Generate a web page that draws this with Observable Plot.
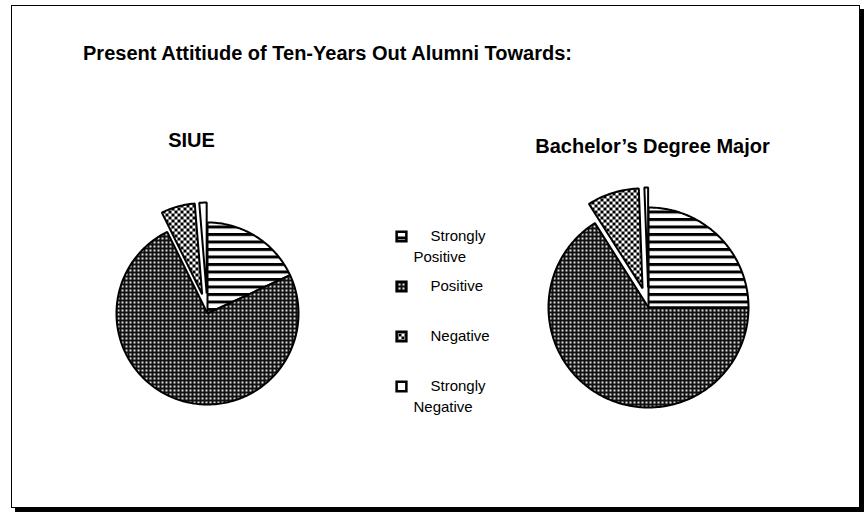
<!DOCTYPE html>
<html><head><meta charset="utf-8">
<script src="https://cdn.jsdelivr.net/npm/d3@7"></script>
<script src="https://cdn.jsdelivr.net/npm/@observablehq/plot@0.6"></script>
<style>
body{margin:0;background:#fff;}
#wrap{position:relative;width:865px;height:512px;overflow:hidden;}
#frame{position:absolute;left:11px;top:5px;width:849px;height:503px;box-sizing:border-box;border:1px solid #000;box-shadow:4px 4px 0 #000;pointer-events:none;}
#wrap svg{position:absolute;left:0;top:0;}
</style></head><body><div id="wrap"><div id="frame"></div></div>
<script>
// ---- data ----
const chartTitle = "Present Attitiude of Ten-Years Out Alumni Towards:";
const pieTitles = ["SIUE", "Bachelor\u2019s Degree Major"];
const categories = ["Strongly Positive", "Positive", "Negative", "Strongly Negative"];
const siueValues = [18.1, 74.6, 6.0, 1.3];
const majorValues = [25.0, 66.0, 8.4, 0.6];
const explodedCategories = ["Negative", "Strongly Negative"];

// ---- layout & style ----
const font = "Liberation Sans, Arial, Helvetica, sans-serif";
const patterns = ["url(#pStripes)", "url(#pDots)", "url(#pChecker)", "#ffffff"];
const pieLayout = [
  {values: siueValues, title: pieTitles[0], cx: 207, cy: 313, r: 91, tx: 191, ty: 140},
  {values: majorValues, title: pieTitles[1], cx: 648, cy: 307, r: 100, tx: 652, ty: 146}
];
const explodeDist = 20;
const legendX = 401, legendTextX = 430, legendWrapX = 413, legendY0 = 236, legendStep = 50, legendLineGap = 21;

const marks = [];
pieLayout.forEach(p => {
  const arcs = d3.pie().sort(null).value(d => d)(p.values);
  arcs.forEach((a, i) => {
    const off = explodedCategories.includes(categories[i]) ? explodeDist : 0;
    const mid = (a.startAngle + a.endAngle) / 2;
    const cx = p.cx + off * Math.sin(mid), cy = p.cy - off * Math.cos(mid);
    const pts = [[cx, cy]];
    const n = Math.max(2, Math.ceil((a.endAngle - a.startAngle) / (Math.PI / 180)));
    for (let k = 0; k <= n; k++) {
      const t = a.startAngle + (a.endAngle - a.startAngle) * k / n;
      pts.push([cx + p.r * Math.sin(t), cy - p.r * Math.cos(t)]);
    }
    marks.push(Plot.line(pts, {x: d => d[0], y: d => d[1], curve: "linear-closed",
      fill: patterns[i], stroke: "#000", strokeWidth: 2, strokeLinejoin: "miter"}));
  });
  marks.push(Plot.text([p.title], {x: () => p.tx, y: () => p.ty, text: d => d,
    fontSize: 20, fontWeight: "bold", fontFamily: font, fill: "#000"}));
});

marks.push(Plot.text([chartTitle], {x: () => 327, y: () => 53, text: d => d,
  fontSize: 20, fontWeight: "bold", fontFamily: font, fill: "#000"}));

categories.forEach((c, i) => {
  const y = legendY0 + i * legendStep;
  marks.push(Plot.dot([c], {x: () => legendX, y: () => y, symbol: "square", r: 5.5,
    fill: patterns[i], stroke: "#000", strokeWidth: 2.5}));
  const words = c.split(" ");
  const lines = words.length > 1 ? [[words[0], legendTextX, y], [words.slice(1).join(" "), legendWrapX, y + legendLineGap]] : [[c, legendTextX, y]];
  marks.push(Plot.text(lines, {x: d => d[1], y: d => d[2], text: d => d[0], textAnchor: "start",
    fontSize: 15, fontFamily: font, fill: "#000"}));
});

const svg = Plot.plot({
  width: 865, height: 512, margin: 0,
  x: {type: "identity", axis: null},
  y: {type: "identity", axis: null},
  style: {background: "none", fontFamily: font},
  marks
});
d3.select(svg).insert("defs", ":first-child").html(`
  <pattern id="pStripes" patternUnits="userSpaceOnUse" width="8" height="7.5">
    <rect width="8" height="7.5" fill="#fff"/><rect width="8" height="3" fill="#000"/>
  </pattern>
  <pattern id="pDots" patternUnits="userSpaceOnUse" width="4" height="4">
    <rect width="4" height="4" fill="#111"/><rect x="1" y="1" width="2" height="2" fill="#fff" fill-opacity="0.85"/>
  </pattern>
  <pattern id="pChecker" patternUnits="userSpaceOnUse" width="6" height="6">
    <rect width="6" height="6" fill="#fff"/><rect width="3" height="3" fill="#000"/><rect x="3" y="3" width="3" height="3" fill="#000"/>
  </pattern>`);
document.getElementById("wrap").insertBefore(svg, document.getElementById("frame"));
</script></body></html>
